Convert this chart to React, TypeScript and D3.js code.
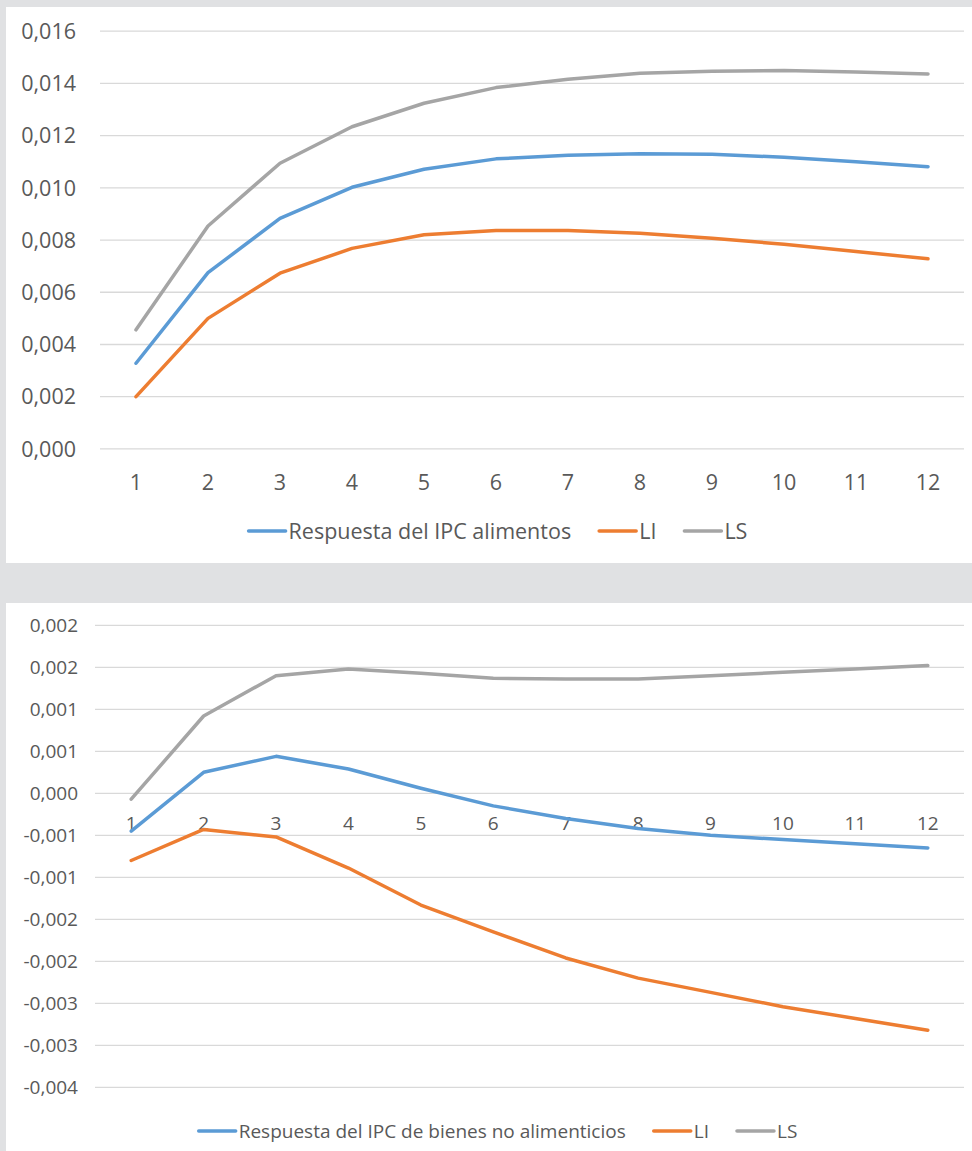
import React, { useRef, useEffect } from 'react';
import * as d3 from 'd3';

// horizonte (meses)
const periods = ['1', '2', '3', '4', '5', '6', '7', '8', '9', '10', '11', '12'];

// Panel 1: respuesta del IPC alimentos
const foodResp = [0.00328, 0.00675, 0.00883, 0.01002, 0.01071, 0.01111, 0.01125, 0.01131, 0.01129, 0.01117, 0.011, 0.01081];
const foodLI = [0.002, 0.005, 0.00673, 0.00768, 0.0082, 0.00837, 0.00837, 0.00826, 0.00807, 0.00784, 0.00756, 0.00728];
const foodLS = [0.00456, 0.00854, 0.01094, 0.01234, 0.01324, 0.01384, 0.01416, 0.01439, 0.01447, 0.01449, 0.01444, 0.01436];
const foodTicks = [0, 0.002, 0.004, 0.006, 0.008, 0.01, 0.012, 0.014, 0.016];
const foodTickLabels = ['0,000', '0,002', '0,004', '0,006', '0,008', '0,010', '0,012', '0,014', '0,016'];

// Panel 2: respuesta del IPC de bienes no alimenticios
const nonFoodResp = [-0.00045, 0.00025, 0.00044, 0.00029, 0.00006, -0.00015, -0.0003, -0.00042, -0.0005, -0.00055, -0.0006, -0.00065];
const nonFoodLI = [-0.0008, -0.00043, -0.00052, -0.00089, -0.00133, -0.00165, -0.00196, -0.0022, -0.00237, -0.00254, -0.00268, -0.00282];
const nonFoodLS = [-0.00007, 0.00092, 0.0014, 0.00148, 0.00143, 0.00137, 0.00136, 0.00136, 0.0014, 0.00144, 0.00148, 0.00152];
const nonFoodTicks = [-0.0035, -0.003, -0.0025, -0.002, -0.0015, -0.001, -0.0005, 0, 0.0005, 0.001, 0.0015, 0.002];
const nonFoodTickLabels = ['-0,004', '-0,003', '-0,003', '-0,002', '-0,002', '-0,001', '-0,001', '0,000', '0,001', '0,001', '0,002', '0,002'];

const colors = { resp: '#5B9BD5', li: '#ED7D31', ls: '#A5A5A5' };
const textColor = '#595959';
const gridColor = '#D9D9D9';
const font = '"Open Sans", sans-serif';

const W = 972;
const H = 1151;

interface PanelSpec {
  top: number;
  bottom: number;
  plotLeft: number;
  plotRight: number;
  plotTop: number;
  plotBottom: number;
  yDomain: [number, number];
  ticks: number[];
  tickLabels: string[];
  labelRight: number;
  fontSize: number;
  xLabelOffset: number;
  legendY: number;
  series: { name: string; values: number[]; color: string }[];
}

const panels: PanelSpec[] = [
  {
    top: 7, bottom: 563,
    plotLeft: 100, plotRight: 964, plotTop: 31.2, plotBottom: 448.9,
    yDomain: [0, 0.016], ticks: foodTicks, tickLabels: foodTickLabels,
    labelRight: 76, fontSize: 21.5, xLabelOffset: 33, legendY: 531,
    series: [
      { name: 'Respuesta del IPC alimentos', values: foodResp, color: colors.resp },
      { name: 'LI', values: foodLI, color: colors.li },
      { name: 'LS', values: foodLS, color: colors.ls },
    ],
  },
  {
    top: 603, bottom: 1151,
    plotLeft: 95, plotRight: 964, plotTop: 625.3, plotBottom: 1087.3,
    yDomain: [-0.0035, 0.002], ticks: nonFoodTicks, tickLabels: nonFoodTickLabels,
    labelRight: 78, fontSize: 19, xLabelOffset: 29.5, legendY: 1131,
    series: [
      { name: 'Respuesta del IPC de bienes no alimenticios', values: nonFoodResp, color: colors.resp },
      { name: 'LI', values: nonFoodLI, color: colors.li },
      { name: 'LS', values: nonFoodLS, color: colors.ls },
    ],
  },
];

const App: React.FC = () => {
  const svgRef = useRef<SVGSVGElement | null>(null);

  useEffect(() => {
    const svg = d3.select(svgRef.current);
    svg.selectAll('*').remove();

    svg.append('rect').attr('width', W).attr('height', H).attr('fill', '#E0E1E3');

    panels.forEach(p => {
      svg.append('rect')
        .attr('x', 6).attr('y', p.top)
        .attr('width', W - 6).attr('height', p.bottom - p.top)
        .attr('fill', '#fff');

      const x = d3.scaleBand<string>().domain(periods).range([p.plotLeft, p.plotRight]);
      const y = d3.scaleLinear().domain(p.yDomain).range([p.plotBottom, p.plotTop]);
      const cx = (d: string) => (x(d) || 0) + x.bandwidth() / 2;

      const g = svg.append('g');

      // gridlines
      g.selectAll('line.grid')
        .data(p.ticks)
        .enter()
        .append('line')
        .attr('x1', p.plotLeft).attr('x2', p.plotRight)
        .attr('y1', d => y(d)).attr('y2', d => y(d))
        .attr('stroke', gridColor).attr('stroke-width', 1.3);

      // y labels
      g.selectAll('text.ylab')
        .data(p.ticks)
        .enter()
        .append('text')
        .attr('x', p.labelRight)
        .attr('y', d => y(d))
        .attr('dy', '0.36em')
        .attr('text-anchor', 'end')
        .attr('font-family', font)
        .attr('font-size', p.fontSize)
        .attr('fill', textColor)
        .text((d, i) => p.tickLabels[i]);

      // x labels (sit under the zero line)
      g.selectAll('text.xlab')
        .data(periods)
        .enter()
        .append('text')
        .attr('x', d => cx(d))
        .attr('y', y(0) + p.xLabelOffset)
        .attr('dy', '0.36em')
        .attr('text-anchor', 'middle')
        .attr('font-family', font)
        .attr('font-size', p.fontSize)
        .attr('fill', textColor)
        .text(d => d);

      const line = d3.line<number>()
        .x((d, i) => cx(periods[i]))
        .y(d => y(d));

      p.series.forEach(s => {
        g.append('path')
          .attr('d', line(s.values) || '')
          .attr('fill', 'none')
          .attr('stroke', s.color)
          .attr('stroke-width', 3.5)
          .attr('stroke-linejoin', 'round')
          .attr('stroke-linecap', 'round');
      });

      // legend, centered on the panel
      const legend = g.append('g');
      const swatch = 37;
      let cursor = 0;
      p.series.forEach((s, i) => {
        const item = legend.append('g').attr('transform', `translate(${cursor},0)`);
        item.append('line')
          .attr('x1', 0).attr('x2', swatch)
          .attr('y1', 0).attr('y2', 0)
          .attr('stroke', s.color).attr('stroke-width', 3.5)
          .attr('stroke-linecap', 'round');
        const t = item.append('text')
          .attr('x', swatch + 3)
          .attr('dy', '0.36em')
          .attr('font-family', font)
          .attr('font-size', p.fontSize)
          .attr('fill', textColor)
          .text(s.name);
        const tw = (t.node() as SVGTextElement).getComputedTextLength();
        cursor += swatch + 3 + tw + (i < p.series.length - 1 ? 28 : 0);
      });
      legend.attr('transform', `translate(${498 - cursor / 2},${p.legendY})`);
    });
  }, []);

  return (
    <div style={{ position: 'absolute', left: 0, top: 0 }}>
      <svg ref={svgRef} width={W} height={H} style={{ display: 'block' }} />
    </div>
  );
};

export default App;
